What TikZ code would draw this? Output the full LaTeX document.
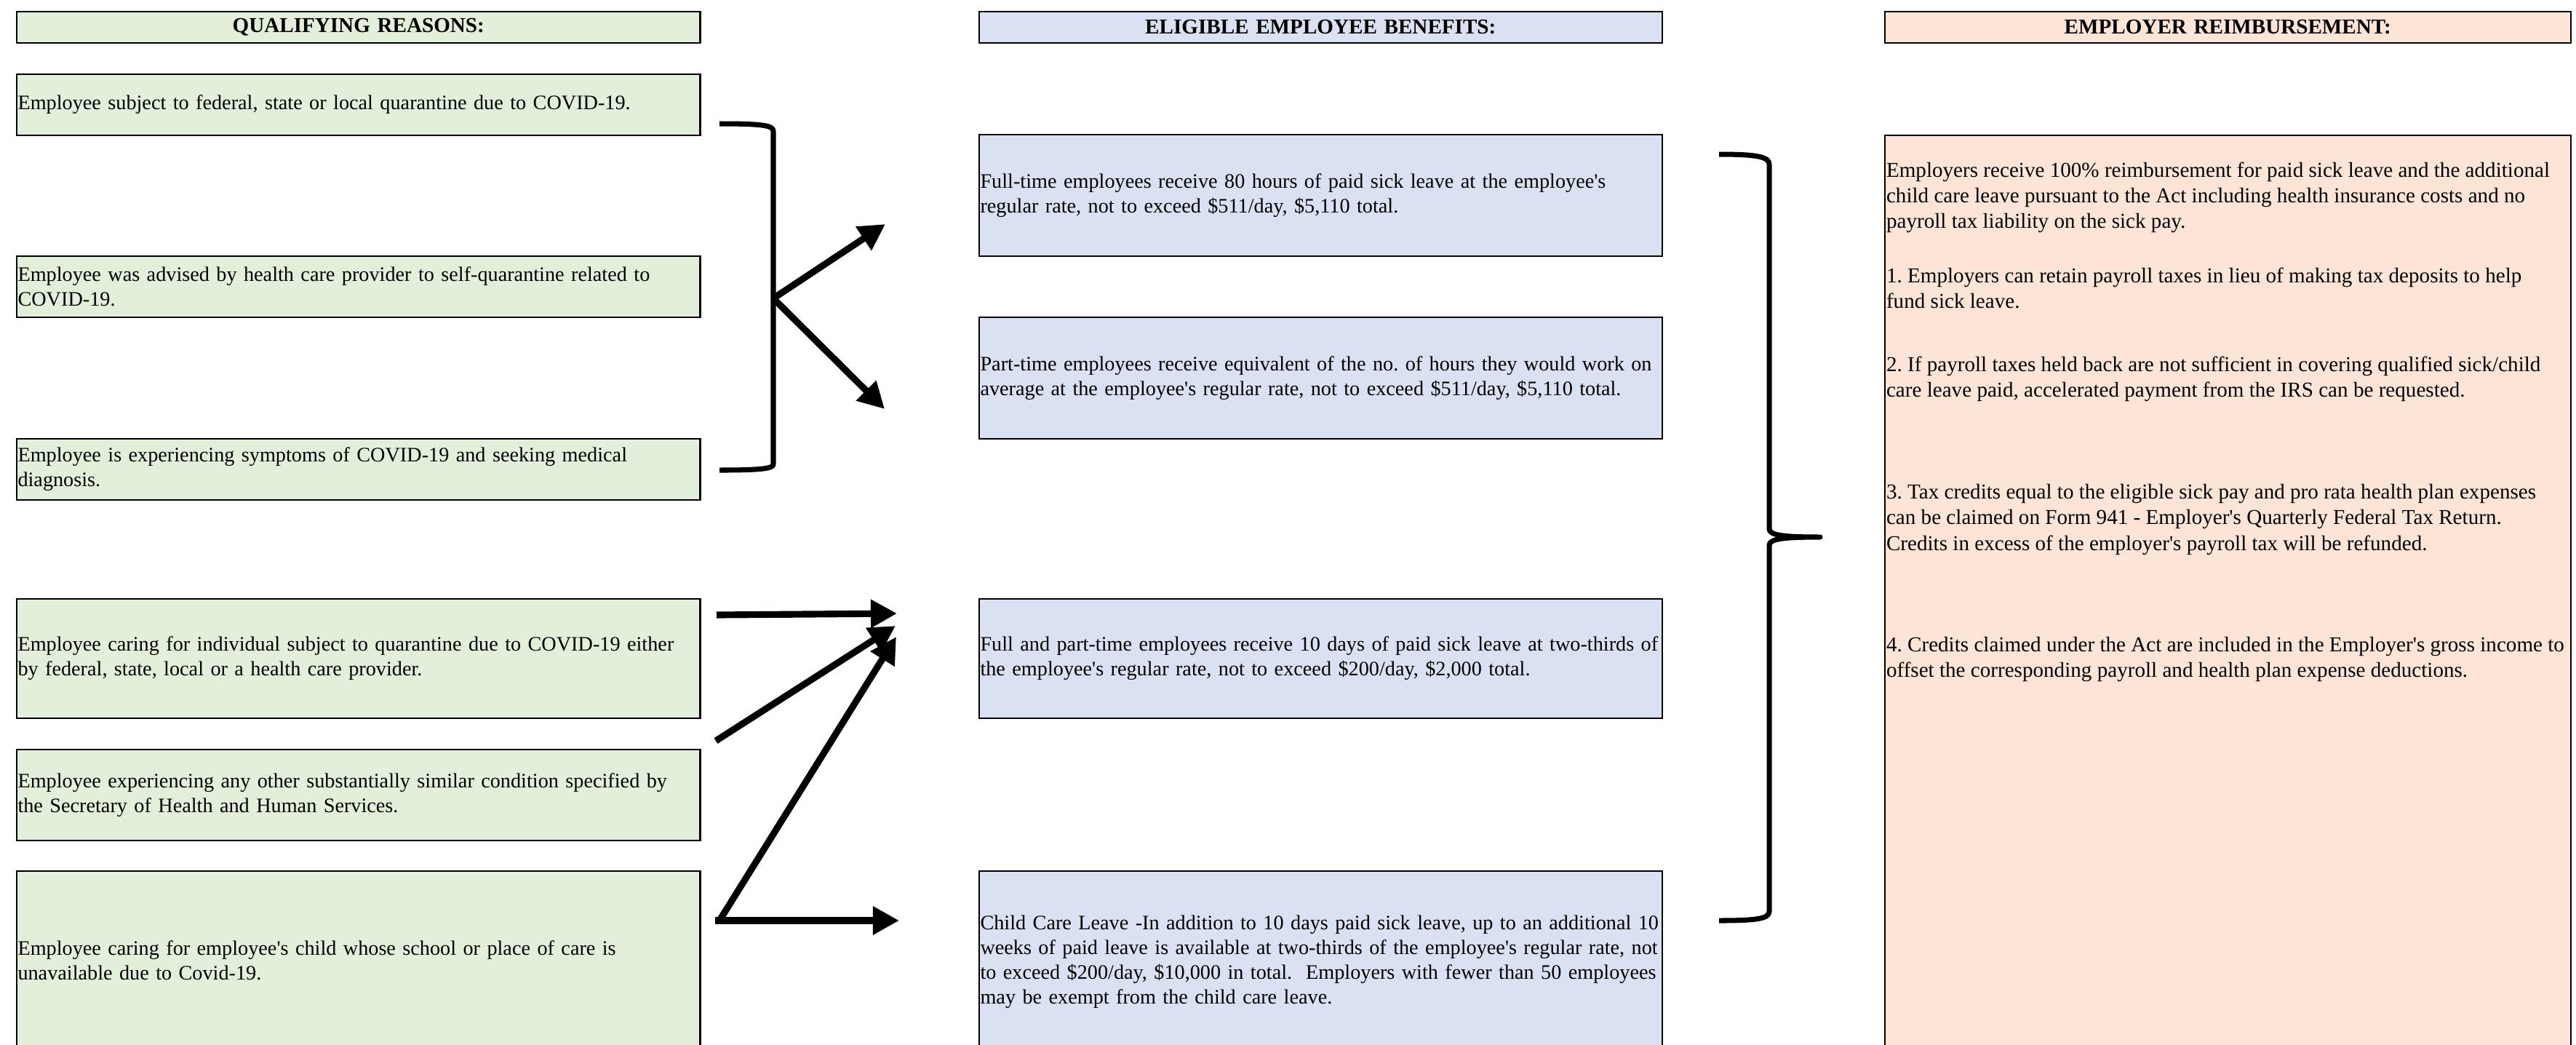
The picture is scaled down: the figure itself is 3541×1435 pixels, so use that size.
\documentclass[tikz,border=0pt]{standalone}
\usepackage{fontspec}
\setmainfont{Liberation Serif}[Ligatures=TeXOff]
\usetikzlibrary{arrows.meta}
\definecolor{qgreen}{HTML}{E2EFDA}
\definecolor{eblue}{HTML}{D9E1F2}
\definecolor{rpeach}{HTML}{FCE4D6}
\newcommand{\oneline}[1]{\mbox{#1}}
\frenchspacing
\begin{document}
\begin{tikzpicture}[x=0.01cm, y=-0.01cm,
  every node/.style={inner sep=0pt, outer sep=0pt},
  txt/.style={font=\fontsize{8.28}{9.96}\selectfont\frenchspacing, align=left},
  ctxt/.style={font=\fontsize{8.03}{9.66}\selectfont\frenchspacing, align=left},
  cell/.style={draw=black, line width=0.6pt, anchor=north west, inner xsep=0.015cm, inner ysep=0pt, ctxt},
  hdr/.style={cell, align=center, font=\fontsize{8.28}{9.96}\selectfont\bfseries, minimum height=0.43cm},
  qcell/.style={cell, fill=qgreen, text width=9.36cm},
  ecell/.style={cell, fill=eblue, text width=9.35cm},
  rcell/.style={cell, fill=rpeach, text width=9.39cm},
  para/.style={txt, anchor=west},
  bracketline/.style={line width=2pt, line join=round},
  arr/.style={line width=2.6pt, -{Triangle[length=0.36cm, width=0.37cm]}},
]
\path[use as bounding box, clip] (0,0) rectangle (3541,1435);

% headers
\node[qcell, hdr] (qh) at (23,16) {QUALIFYING REASONS:};
\node[ecell, hdr] (eh) at (1346,16) {ELIGIBLE EMPLOYEE BENEFITS:};
\node[rcell, hdr] (rh) at (2591,16) {EMPLOYER REIMBURSEMENT:};

% qualifying reasons
\node[qcell, minimum height=0.84cm] (q1) at (23,102) {\oneline{Employee subject to federal, state or local quarantine due to COVID-19.}};
\node[qcell, minimum height=0.84cm] (q2) at (23,352) {\oneline{Employee was advised by health care provider to self-quarantine related to}\\\oneline{COVID-19.}};
\node[qcell, minimum height=0.84cm] (q3) at (23,603) {\oneline{Employee is experiencing symptoms of COVID-19 and seeking medical}\\\oneline{diagnosis.}};
\node[qcell, minimum height=1.64cm] (q4) at (23,823) {\oneline{Employee caring for individual subject to quarantine due to COVID-19 either}\\\oneline{by federal, state, local or a health care provider.}};
\node[qcell, minimum height=1.25cm] (q5) at (23,1030) {\oneline{Employee experiencing any other substantially similar condition specified by}\\\oneline{the Secretary of Health and Human Services.}};
\node[qcell, minimum height=2.46cm] (q6) at (23,1197) {\oneline{Employee caring for employee's child whose school or place of care is}\\\oneline{unavailable due to Covid-19.}};

% eligible employee benefits
\node[ecell, minimum height=1.67cm] (e1) at (1346,185) {\oneline{Full-time employees receive 80 hours of paid sick leave at the employee's}\\\oneline{regular rate, not to exceed \$511/day, \$5,110 total.}};
\node[ecell, minimum height=1.67cm] (e2) at (1346,436) {\oneline{Part-time employees receive equivalent of the no. of hours they would work on}\\\oneline{average at the employee's regular rate, not to exceed \$511/day, \$5,110 total.}};
\node[ecell, minimum height=1.64cm] (e3) at (1346,823) {\oneline{Full and part-time employees receive 10 days of paid sick leave at two-thirds of}\\\oneline{the employee's regular rate, not to exceed \$200/day, \$2,000 total.}};
\node[ecell, minimum height=2.50cm] (e4) at (1346,1197) {\oneline{Child Care Leave -In addition to 10 days paid sick leave, up to an additional 10}\\\oneline{weeks of paid leave is available at two-thirds of the employee's regular rate, not}\\\oneline{to exceed \$200/day, \$10,000 in total.\ \ Employers with fewer than 50 employees}\\\oneline{may be exempt from the child care leave.}};

% employer reimbursement
\node[rcell, minimum height=12.8cm] (r) at (2591,186) {};
\node[para] (r0) at (2593,271) {Employers receive 100\% reimbursement for paid sick leave and the additional\\child care leave pursuant to the Act including health insurance costs and no\\payroll tax liability on the sick pay.};
\node[para] (r1) at (2593,396) {1. Employers can retain payroll taxes in lieu of making tax deposits to help\\fund sick leave.};
\node[para] (r2) at (2593,521) {2. If payroll taxes held back are not sufficient in covering qualified sick/child\\care leave paid, accelerated payment from the IRS can be requested.};
\node[para] (r3) at (2593,714) {3. Tax credits equal to the eligible sick pay and pro rata health plan expenses\\can be claimed on Form 941 - Employer's Quarterly Federal Tax Return.\\Credits in excess of the employer's payroll tax will be refunded.};
\node[para] (r4) at (2593,906) {4. Credits claimed under the Act are included in the Employer's gross income to\\offset the corresponding payroll and health plan expense deductions.};

% left bracket and arrows
\draw[bracketline] (989,170) .. controls (1045,170) and (1063,172) .. (1063,180) -- (1063,638) .. controls (1063,644) and (1045,646) .. (989,646);
\coordinate (lj) at (1063,410);
\coordinate (t1) at (1217,308);
\coordinate (t2) at (1216,562);
\draw[arr] (lj) -- (t1);
\draw[arr] (lj) -- (t2);

% lower arrows
\coordinate (aS) at (985,845);
\coordinate (aT) at (1233,843);
\coordinate (bS) at (984,1018);
\coordinate (bT) at (1231,860);
\coordinate (cS) at (989,1265);
\coordinate (cT) at (1232,875);
\coordinate (dS) at (983,1265);
\coordinate (dT) at (1236,1265);
\draw[arr] (aS) -- (aT);
\draw[arr] (bS) -- (bT);
\draw[arr] (cS) -- (cT);
\draw[arr] (dS) -- (dT);

% right bracket
\draw[bracketline] (2363,212) .. controls (2418,212) and (2432,216) .. (2432,226) -- (2432,727) .. controls (2432,736) and (2455,738) .. (2502,738) .. controls (2455,738) and (2432,740) .. (2432,749) -- (2432,1252) .. controls (2432,1262) and (2418,1265) .. (2363,1265);
\end{tikzpicture}
\end{document}
